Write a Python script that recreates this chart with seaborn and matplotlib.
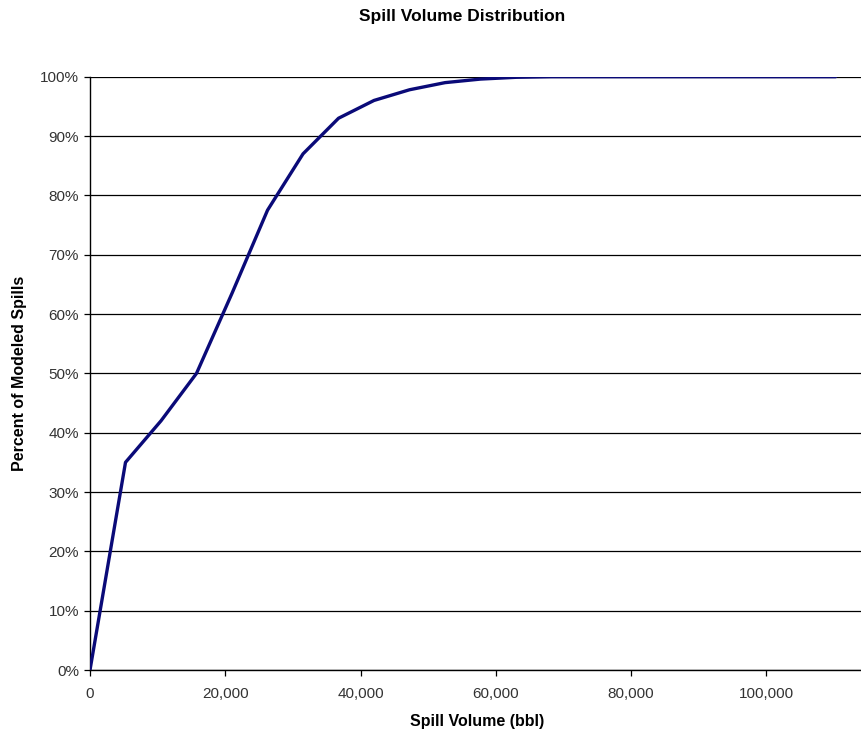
import matplotlib
matplotlib.use("Agg")
import matplotlib.pyplot as plt
import seaborn as sns
import pandas as pd
from matplotlib.ticker import FuncFormatter

# Data
spill_volume_bbl = [0, 5250, 10500, 15750, 21000, 26250, 31500, 36750, 42000, 47250,
                    52500, 57750, 63000, 68250, 73500, 78750, 84000, 89250, 94500,
                    99750, 105000, 110250]
percent_spills = [0, 35, 42, 50, 63.5, 77.5, 87, 93, 96, 97.8,
                  99, 99.6, 99.9, 100, 100, 100, 100, 100, 100,
                  100, 100, 100]
x_ticks = [0, 20000, 40000, 60000, 80000, 100000]
y_ticks = [0, 10, 20, 30, 40, 50, 60, 70, 80, 90, 100]

df = pd.DataFrame({"Spill Volume (bbl)": spill_volume_bbl,
                   "Percent of Modeled Spills": percent_spills})

sns.set_style("white")
plt.rcParams['font.family'] = ['Liberation Sans', 'DejaVu Sans']

fig = plt.figure(figsize=(8.61, 7.33), dpi=100)
ax = fig.add_axes([90/861, (733-670)/733, (861-90)/861, (670-76.7)/733])

sns.lineplot(data=df, x="Spill Volume (bbl)", y="Percent of Modeled Spills",
             ax=ax, color="#0a0a78", linewidth=2.4, zorder=3)

ax.set_xlim(0, 114000)
ax.set_ylim(0, 100)
ax.set_xticks(x_ticks)
ax.set_yticks(y_ticks)
ax.xaxis.set_major_formatter(FuncFormatter(lambda v, p: f"{int(v):,}"))
ax.yaxis.set_major_formatter(FuncFormatter(lambda v, p: f"{int(v)}%"))

ax.yaxis.grid(True, color="black", linewidth=0.9)
ax.xaxis.grid(False)
ax.set_axisbelow(True)

for s in ["top", "right"]:
    ax.spines[s].set_visible(False)
for s in ["left", "bottom"]:
    ax.spines[s].set_color("black")
    ax.spines[s].set_linewidth(1.0)

ax.tick_params(axis="both", which="major", direction="out", length=4, width=0.9,
               color="black", labelsize=11, labelcolor="#333333", pad=4,
               bottom=True, left=True)
ax.tick_params(axis="x", pad=8)

ax.set_xlabel("Spill Volume (bbl)", fontsize=11.5, fontweight="bold", color="black")
ax.set_ylabel("Percent of Modeled Spills", fontsize=11.5, fontweight="bold",
              labelpad=9, color="black")
ax.xaxis.set_label_coords((477 - 90) / (861 - 90), -(714 - 670) / (670 - 76.7))

fig.text(462/861, 1 - 16/733, "Spill Volume Distribution", ha="center", va="center",
         fontsize=12.5, fontweight="bold", color="black")

fig.savefig("out.png", dpi=100, facecolor="white")
